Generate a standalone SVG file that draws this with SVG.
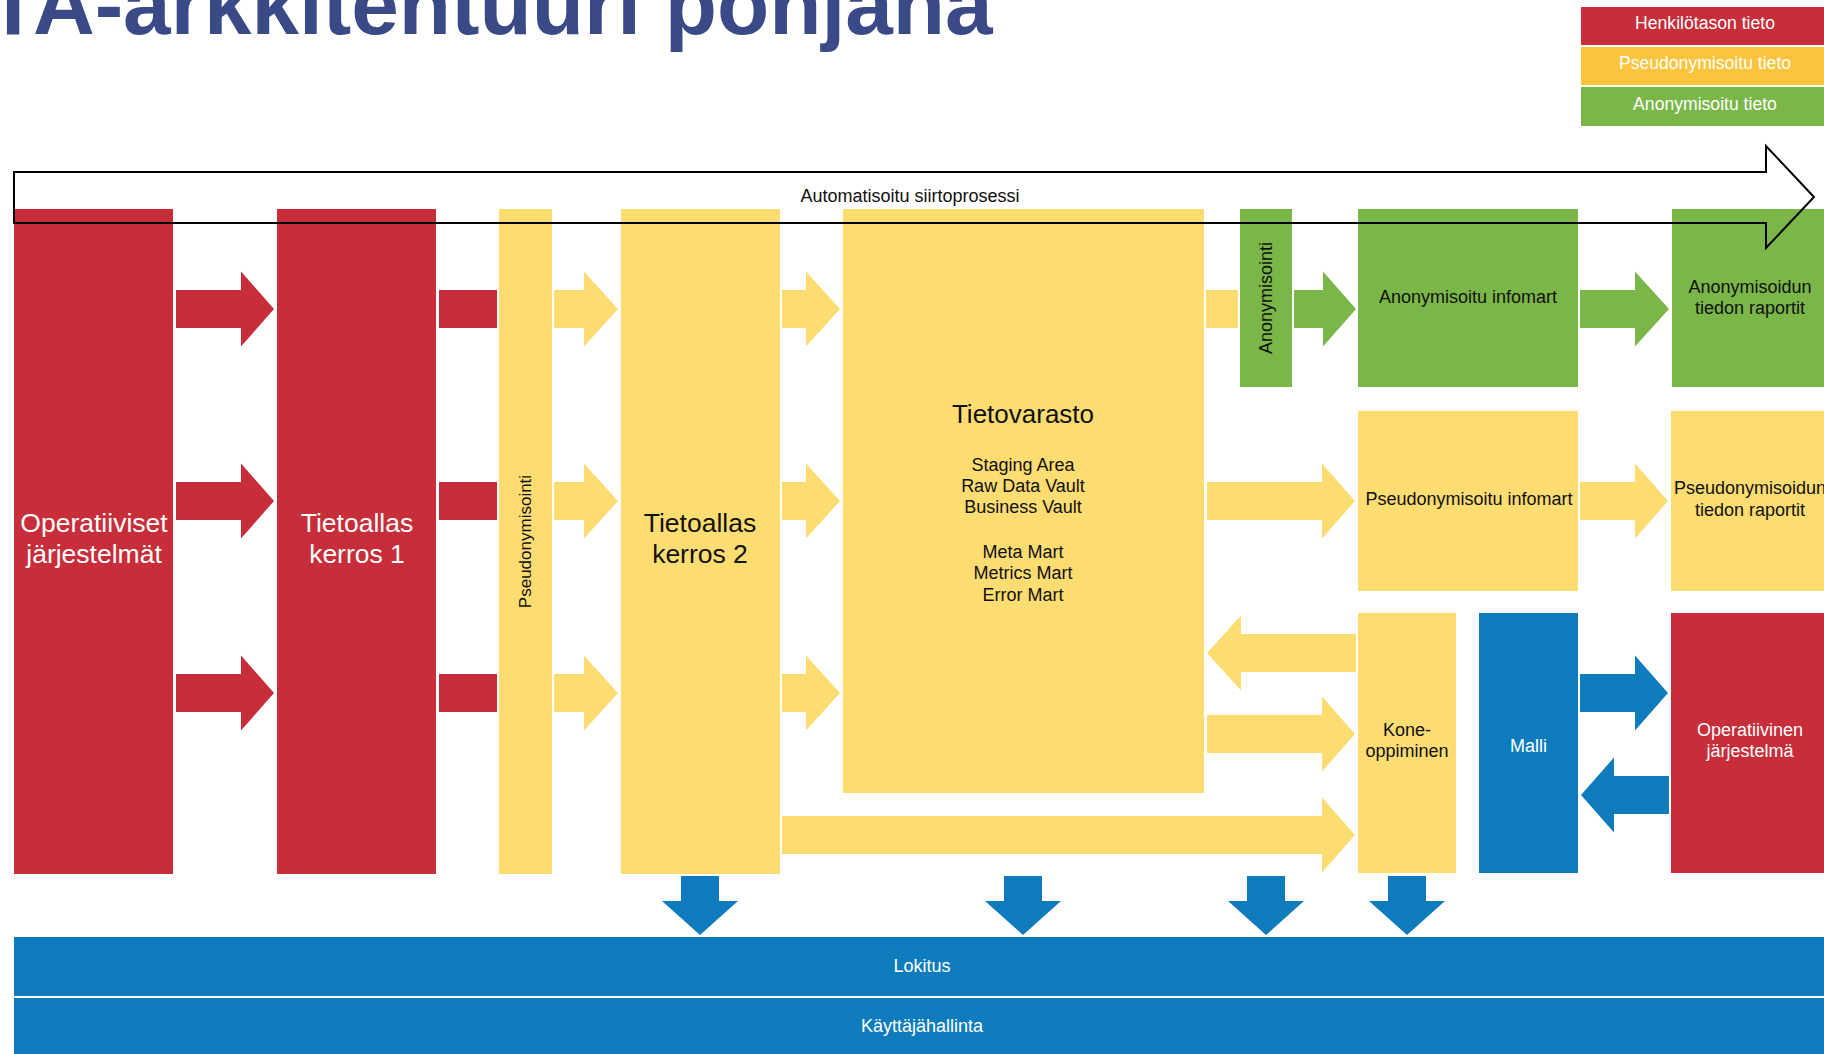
<svg xmlns="http://www.w3.org/2000/svg" width="1824" height="1054" viewBox="0 0 1824 1054">
<style>
text{font-family:"Liberation Sans",Arial,sans-serif;text-anchor:middle}
.red{fill:#C82D3A}.yel{fill:#FDDC72}.grn{fill:#7AB648}.blu{fill:#0E7CBC}.lyel{fill:#FBC43C}
.w{fill:#fff}.k{fill:#111}
.s18{font-size:18px}.s17{font-size:17px}.leg{font-size:17.6px}.big{font-size:26.5px}
</style>
<rect width="1824" height="1054" fill="#fff"/>
<text id="title" x="-13" y="34" style="text-anchor:start;font-size:85.5px;font-weight:bold;fill:#394A86">TA-arkkitehtuuri pohjana</text>

<g id="legend">
<g id="legend-red"><rect class="red" x="1581" y="7" width="249" height="38"/><text class="w leg" x="1705" y="29">Henkilötason tieto</text></g>
<g id="legend-yellow"><rect class="lyel" x="1581" y="47" width="249" height="38"/><text class="w leg" x="1705" y="69">Pseudonymisoitu tieto</text></g>
<g id="legend-green"><rect class="grn" x="1581" y="87" width="249" height="39"/><text class="w leg" x="1705" y="110">Anonymisoitu tieto</text></g>
</g>

<g id="operatiiviset"><rect class="red" x="14" y="209" width="159" height="665"/><text class="w big" x="94" y="532">Operatiiviset</text><text class="w big" x="94" y="563">järjestelmät</text></g>
<g id="tietoallas1"><rect class="red" x="277" y="209" width="159" height="665"/><text class="w big" x="357" y="532">Tietoallas</text><text class="w big" x="357" y="563">kerros 1</text></g>
<g id="pseudonymisointi"><rect class="yel" x="499" y="209" width="53" height="665"/><text class="k s17" transform="translate(531,541.5) rotate(-90)">Pseudonymisointi</text></g>
<g id="tietoallas2"><rect class="yel" x="621" y="209" width="159" height="665"/><text class="k big" x="700" y="532">Tietoallas</text><text class="k big" x="700" y="563">kerros 2</text></g>
<g id="tietovarasto"><rect class="yel" x="843" y="209" width="361" height="584"/>
<text class="k" x="1023" y="423" style="font-size:26px">Tietovarasto</text>
<text class="k s18" x="1023" y="471">Staging Area</text><text class="k s18" x="1023" y="492">Raw Data Vault</text><text class="k s18" x="1023" y="513">Business Vault</text>
<text class="k s18" x="1023" y="558">Meta Mart</text><text class="k s18" x="1023" y="579">Metrics Mart</text><text class="k s18" x="1023" y="601">Error Mart</text></g>
<g id="anonymisointi"><rect class="grn" x="1240" y="209" width="52" height="178"/><text class="k s18" transform="translate(1272,298) rotate(-90)">Anonymisointi</text></g>
<g id="anon-infomart"><rect class="grn" x="1358" y="209" width="220" height="178"/><text class="k s18" x="1468" y="303">Anonymisoitu infomart</text></g>
<g id="anon-raportit"><rect class="grn" x="1672" y="209" width="158" height="178"/><text class="k s18" x="1750" y="293">Anonymisoidun</text><text class="k s18" x="1750" y="314">tiedon raportit</text></g>
<g id="pseudo-infomart"><rect class="yel" x="1358" y="411" width="220" height="180"/><text class="k s18" x="1469" y="505">Pseudonymisoitu infomart</text></g>
<g id="pseudo-raportit"><rect class="yel" x="1671" y="411" width="159" height="180"/><text class="k s18" x="1750" y="494">Pseudonymisoidun</text><text class="k s18" x="1750" y="516">tiedon raportit</text></g>
<g id="koneoppiminen"><rect class="yel" x="1358" y="613" width="98" height="260"/><text class="k s18" x="1407" y="736">Kone-</text><text class="k s18" x="1407" y="757">oppiminen</text></g>
<g id="malli"><rect class="blu" x="1479" y="613" width="99" height="260"/><text class="w s18" x="1528.5" y="752">Malli</text></g>
<g id="operatiivinen"><rect class="red" x="1671" y="613" width="159" height="260"/><text class="w s18" x="1750" y="736">Operatiivinen</text><text class="w s18" x="1750" y="757">järjestelmä</text></g>
<g id="lokitus"><rect class="blu" x="14" y="937" width="1816" height="59"/><text class="w s18" x="922" y="972">Lokitus</text></g>
<g id="kayttajahallinta"><rect class="blu" x="14" y="998" width="1816" height="60"/><text class="w s18" x="922" y="1032">Käyttäjähallinta</text></g>

<g id="connectors">
<path class="red" d="M176 290H241V271.5L274 309L241 346.5V328H176Z"/>
<path class="red" d="M176 482H241V463.5L274 501L241 538.5V520H176Z"/>
<path class="red" d="M176 674H241V655.5L274 693L241 730.5V712H176Z"/>
<rect class="red" x="439" y="290" width="58" height="38"/>
<rect class="red" x="439" y="482" width="58" height="38"/>
<rect class="red" x="439" y="674" width="58" height="38"/>
<path class="yel" d="M554 290H584V271.5L618 309L584 346.5V328H554Z"/>
<path class="yel" d="M554 482H584V463.5L618 501L584 538.5V520H554Z"/>
<path class="yel" d="M554 674H584V655.5L618 693L584 730.5V712H554Z"/>
<path class="yel" d="M782 290H806V271.5L840 309L806 346.5V328H782Z"/>
<path class="yel" d="M782 482H806V463.5L840 501L806 538.5V520H782Z"/>
<path class="yel" d="M782 674H806V655.5L840 693L806 730.5V712H782Z"/>
<rect class="yel" x="1206" y="290" width="32" height="38"/>
<path class="grn" d="M1294 290H1323V271.5L1356 309L1323 346.5V328H1294Z"/>
<path class="grn" d="M1580 290H1635V271.5L1669 309L1635 346.5V328H1580Z"/>
<path class="yel" d="M1207 482H1322V463.5L1355 501L1322 538.5V520H1207Z"/>
<path class="yel" d="M1580 482H1635V463.5L1668 501L1635 538.5V520H1580Z"/>
<path class="yel" d="M1356 634H1241V615.5L1207 653L1241 690.5V672H1356Z"/>
<path class="yel" d="M1207 715H1322V696.5L1355 734L1322 771.5V753H1207Z"/>
<path class="yel" d="M782 816H1322V797.5L1355 835L1322 872.5V854H782Z"/>
<path class="blu" d="M1580 674H1635V655.5L1668 693L1635 730.5V712H1580Z"/>
<path class="blu" d="M1669 776H1614V757.5L1581 795L1614 832.5V814H1669Z"/>
<path class="blu" d="M681 876H719V901H738L700 935L662 901H681Z"/>
<path class="blu" d="M1004 876H1042V901H1061L1023 935L985 901H1004Z"/>
<path class="blu" d="M1247 876H1285V901H1304L1266 935L1228 901H1247Z"/>
<path class="blu" d="M1388 876H1426V901H1445L1407 935L1369 901H1388Z"/>
<path d="M14 172H1766V146L1814 197L1766 248V223H14Z" fill="none" stroke="#000" stroke-width="2"/>
<text class="k s18" x="910" y="202">Automatisoitu siirtoprosessi</text>
</g>
</svg>
